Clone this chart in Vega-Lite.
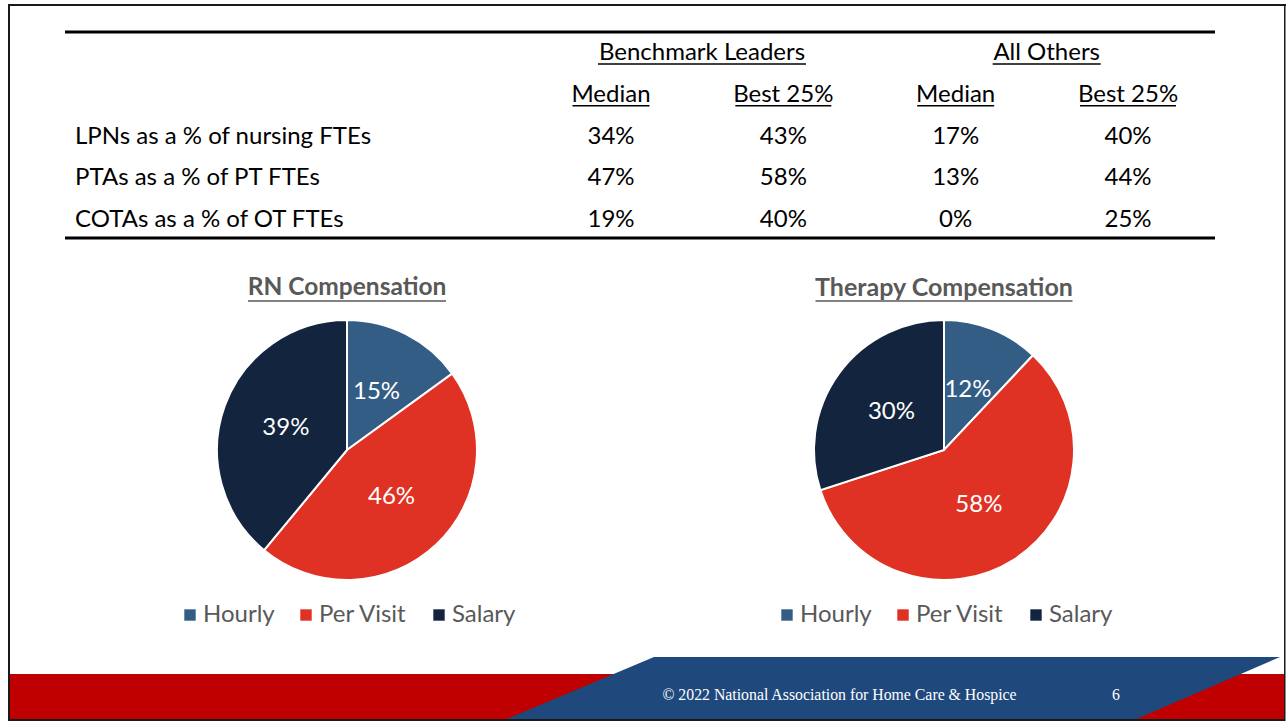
{
  "$schema": "https://vega.github.io/schema/vega-lite/v6.json",
  "padding": 0,
  "background": "white",
  "spacing": 0,
  "config": {
    "view": {"stroke": null},
    "font": "Lato",
    "axis": {"grid": false}
  },
  "datasets": {
    "cells": [
      {"metric": "LPNs as a % of nursing FTEs", "col": "Leaders Median", "share": 0.34},
      {"metric": "LPNs as a % of nursing FTEs", "col": "Leaders Best 25%", "share": 0.43},
      {"metric": "LPNs as a % of nursing FTEs", "col": "Others Median", "share": 0.17},
      {"metric": "LPNs as a % of nursing FTEs", "col": "Others Best 25%", "share": 0.40},
      {"metric": "PTAs as a % of PT FTEs", "col": "Leaders Median", "share": 0.47},
      {"metric": "PTAs as a % of PT FTEs", "col": "Leaders Best 25%", "share": 0.58},
      {"metric": "PTAs as a % of PT FTEs", "col": "Others Median", "share": 0.13},
      {"metric": "PTAs as a % of PT FTEs", "col": "Others Best 25%", "share": 0.44},
      {"metric": "COTAs as a % of OT FTEs", "col": "Leaders Median", "share": 0.19},
      {"metric": "COTAs as a % of OT FTEs", "col": "Leaders Best 25%", "share": 0.40},
      {"metric": "COTAs as a % of OT FTEs", "col": "Others Median", "share": 0.00},
      {"metric": "COTAs as a % of OT FTEs", "col": "Others Best 25%", "share": 0.25}
    ],
    "subheads": [
      {"metric": "Statistic", "col": "Leaders Median", "label": "Median"},
      {"metric": "Statistic", "col": "Leaders Best 25%", "label": "Best 25%"},
      {"metric": "Statistic", "col": "Others Median", "label": "Median"},
      {"metric": "Statistic", "col": "Others Best 25%", "label": "Best 25%"}
    ],
    "groups": [
      {"metric": "Group", "col": "Leaders Median", "label": "Benchmark Leaders"},
      {"metric": "Group", "col": "Others Median", "label": "All Others"}
    ],
    "rn": [
      {"type": "Hourly", "share": 0.15},
      {"type": "Per Visit", "share": 0.46},
      {"type": "Salary", "share": 0.39}
    ],
    "therapy": [
      {"type": "Hourly", "share": 0.12},
      {"type": "Per Visit", "share": 0.58},
      {"type": "Salary", "share": 0.30}
    ]
  },
  "vconcat": [
    {
      "width": 1286,
      "height": 243,
      "layer": [
        {
          "data": {"values": [{"piece": "slide frame"}]},
          "mark": {"type": "point", "shape": "M -635 -117.5 L 643 -117.5 L 643 -115.5 L -635 -115.5 Z M -635 -115.5 L -633 -115.5 L -633 121.5 L -635 121.5 Z M 641 -115.5 L 642.5 -115.5 L 642.5 121.5 L 641 121.5 Z", "size": 4, "filled": true, "fill": "#1a1a1a", "strokeWidth": 0, "opacity": 1},
          "encoding": {}
        },
        {
          "data": {"values": [{"edge": "top"}]},
          "mark": {"type": "rule", "stroke": "black", "strokeWidth": 3, "xOffset": -546, "x2Offset": 87, "yOffset": -21},
          "encoding": {
            "x": {"datum": "Leaders Median", "type": "nominal", "scale": {"type": "point", "domain": ["Leaders Median", "Leaders Best 25%", "Others Median", "Others Best 25%"], "range": [611, 1128], "padding": 0}, "axis": null},
            "x2": {"datum": "Others Best 25%"},
            "y": {"datum": "Group", "type": "nominal", "scale": {"type": "point", "domain": ["Group", "Statistic", "LPNs as a % of nursing FTEs", "PTAs as a % of PT FTEs", "COTAs as a % of OT FTEs"], "range": [53, 220], "padding": 0}, "axis": null}
          }
        },
        {
          "data": {"values": [{"edge": "bottom"}]},
          "mark": {"type": "rule", "stroke": "black", "strokeWidth": 3, "xOffset": -546, "x2Offset": 87, "yOffset": 18},
          "encoding": {
            "x": {"datum": "Leaders Median", "type": "nominal", "axis": null},
            "x2": {"datum": "Others Best 25%"},
            "y": {"datum": "COTAs as a % of OT FTEs", "type": "nominal", "axis": null}
          }
        },
        {
          "data": {"name": "cells"},
          "transform": [{"filter": "datum.col == 'Leaders Median'"}],
          "mark": {"type": "text", "fontSize": 24, "font": "Lato", "fill": "black", "baseline": "middle", "align": "left", "xOffset": -536},
          "encoding": {
            "x": {"field": "col", "type": "nominal", "axis": null},
            "y": {"field": "metric", "type": "nominal", "axis": null},
            "text": {"field": "metric"}
          }
        },
        {
          "data": {"name": "cells"},
          "mark": {"type": "text", "fontSize": 24, "font": "Lato", "fill": "black", "baseline": "middle", "align": "center"},
          "encoding": {
            "x": {"field": "col", "type": "nominal", "axis": null},
            "y": {"field": "metric", "type": "nominal", "axis": null},
            "text": {"field": "share", "type": "quantitative", "format": ".0%"}
          }
        },
        {
          "data": {"name": "subheads"},
          "mark": {"type": "text", "fontSize": 24, "font": "Lato", "fill": "black", "baseline": "middle", "align": "center"},
          "encoding": {
            "x": {"field": "col", "type": "nominal", "axis": null},
            "y": {"field": "metric", "type": "nominal", "axis": null},
            "text": {"field": "label"}
          }
        },
        {
          "data": {"name": "subheads"},
          "transform": [{"filter": "datum.label == 'Median'"}],
          "mark": {"type": "rule", "stroke": "black", "strokeWidth": 1.6, "xOffset": -38.5, "x2Offset": 38.5, "yOffset": 11},
          "encoding": {
            "x": {"field": "col", "type": "nominal", "axis": null},
            "x2": {"field": "col"},
            "y": {"field": "metric", "type": "nominal", "axis": null}
          }
        },
        {
          "data": {"name": "subheads"},
          "transform": [{"filter": "datum.label == 'Best 25%'"}],
          "mark": {"type": "rule", "stroke": "black", "strokeWidth": 1.6, "xOffset": -48, "x2Offset": 48, "yOffset": 11},
          "encoding": {
            "x": {"field": "col", "type": "nominal", "axis": null},
            "x2": {"field": "col"},
            "y": {"field": "metric", "type": "nominal", "axis": null}
          }
        },
        {
          "data": {"name": "groups"},
          "mark": {"type": "text", "fontSize": 24, "font": "Lato", "fill": "black", "baseline": "middle", "align": "center", "xOffset": 91},
          "encoding": {
            "x": {"field": "col", "type": "nominal", "axis": null},
            "y": {"field": "metric", "type": "nominal", "axis": null},
            "text": {"field": "label"}
          }
        },
        {
          "data": {"name": "groups"},
          "transform": [{"filter": "datum.label == 'Benchmark Leaders'"}],
          "mark": {"type": "rule", "stroke": "black", "strokeWidth": 1.6, "xOffset": -13, "x2Offset": 195, "yOffset": 11},
          "encoding": {
            "x": {"field": "col", "type": "nominal", "axis": null},
            "x2": {"field": "col"},
            "y": {"field": "metric", "type": "nominal", "axis": null}
          }
        },
        {
          "data": {"name": "groups"},
          "transform": [{"filter": "datum.label == 'All Others'"}],
          "mark": {"type": "rule", "stroke": "black", "strokeWidth": 1.6, "xOffset": 37, "x2Offset": 145, "yOffset": 11},
          "encoding": {
            "x": {"field": "col", "type": "nominal", "axis": null},
            "x2": {"field": "col"},
            "y": {"field": "metric", "type": "nominal", "axis": null}
          }
        }
      ]
    },
    {
      "hconcat": [
        {
          "width": 694,
          "height": 414,
          "layer": [
            {
              "data": {"values": [{"piece": "slide frame"}]},
              "mark": {"type": "point", "shape": "M -339 -207 L -337 -207 L -337 207 L -339 207 Z", "size": 4, "filled": true, "fill": "#1a1a1a", "strokeWidth": 0, "opacity": 1},
              "encoding": {}
            },
            {
              "data": {"name": "rn"},
              "mark": {"type": "arc", "outerRadius": 130, "stroke": "white", "strokeWidth": 2},
              "encoding": {
                "theta": {"field": "share", "type": "quantitative", "stack": true},
                "order": {"field": "type", "type": "ordinal"},
                "color": {"field": "type", "type": "nominal",
                          "scale": {"domain": ["Hourly", "Per Visit", "Salary"], "range": ["#335d84", "#df3224", "#13243f"]},
                          "legend": {"orient": "none", "legendX": 178, "legendY": 360, "direction": "horizontal", "title": null, "symbolType": "square", "symbolSize": 130, "symbolStrokeWidth": 0, "labelFontSize": 24, "labelFont": "Lato", "labelColor": "#595959", "columnPadding": 19, "labelOffset": 1, "padding": 0}}
              }
            },
            {
              "data": {"name": "rn"},
              "mark": {"type": "text", "radius": 65, "fontSize": 24, "font": "Lato", "fill": "white", "align": "center", "baseline": "middle"},
              "encoding": {
                "theta": {"field": "share", "type": "quantitative", "stack": true},
                "order": {"field": "type", "type": "ordinal"},
                "text": {"field": "share", "type": "quantitative", "format": ".0%"}
              }
            },
            {
              "data": {"values": [{"title": "RN Compensation"}]},
              "mark": {"type": "text", "fontSize": 24.5, "font": "Lato", "fontWeight": "bold", "fill": "#595959", "align": "center", "baseline": "middle"},
              "encoding": {
                "y": {"field": "title", "type": "nominal", "scale": {"type": "point", "range": [45, 45]}, "axis": null},
                "text": {"field": "title"}
              }
            },
            {
              "data": {"values": [{"title": "RN Compensation"}]},
              "mark": {"type": "rule", "stroke": "#595959", "strokeWidth": 1.6, "xOffset": -99, "x2Offset": 99, "yOffset": 13},
              "encoding": {
                "x": {"field": "title", "type": "nominal", "axis": null},
                "x2": {"field": "title"},
                "y": {"field": "title", "type": "nominal", "scale": {"type": "point", "range": [45, 45]}, "axis": null}
              }
            }
          ]
        },
        {
          "width": 500,
          "height": 414,
          "layer": [
            {
              "data": {"values": [{"piece": "slide frame"}]},
              "mark": {"type": "point", "shape": "M 340 -207 L 341.5 -207 L 341.5 207 L 340 207 Z", "size": 4, "filled": true, "fill": "#1a1a1a", "strokeWidth": 0, "opacity": 1},
              "encoding": {}
            },
            {
              "data": {"name": "therapy"},
              "mark": {"type": "arc", "outerRadius": 130, "stroke": "white", "strokeWidth": 2},
              "encoding": {
                "theta": {"field": "share", "type": "quantitative", "stack": true},
                "order": {"field": "type", "type": "ordinal"},
                "color": {"field": "type", "type": "nominal",
                          "scale": {"domain": ["Hourly", "Per Visit", "Salary"], "range": ["#335d84", "#df3224", "#13243f"]},
                          "legend": {"orient": "none", "legendX": 81, "legendY": 360, "direction": "horizontal", "title": null, "symbolType": "square", "symbolSize": 130, "symbolStrokeWidth": 0, "labelFontSize": 24, "labelFont": "Lato", "labelColor": "#595959", "columnPadding": 19, "labelOffset": 1, "padding": 0}}
              }
            },
            {
              "data": {"name": "therapy"},
              "mark": {"type": "text", "radius": 65, "fontSize": 24, "font": "Lato", "fill": "white", "align": "center", "baseline": "middle"},
              "encoding": {
                "theta": {"field": "share", "type": "quantitative", "stack": true},
                "order": {"field": "type", "type": "ordinal"},
                "text": {"field": "share", "type": "quantitative", "format": ".0%"}
              }
            },
            {
              "data": {"values": [{"title": "Therapy Compensation"}]},
              "mark": {"type": "text", "fontSize": 25, "font": "Lato", "fontWeight": "bold", "fill": "#595959", "align": "center", "baseline": "middle"},
              "encoding": {
                "y": {"field": "title", "type": "nominal", "scale": {"type": "point", "range": [45, 45]}, "axis": null},
                "text": {"field": "title"}
              }
            },
            {
              "data": {"values": [{"title": "Therapy Compensation"}]},
              "mark": {"type": "rule", "stroke": "#595959", "strokeWidth": 1.6, "xOffset": -128.5, "x2Offset": 128.5, "yOffset": 13},
              "encoding": {
                "x": {"field": "title", "type": "nominal", "axis": null},
                "x2": {"field": "title"},
                "y": {"field": "title", "type": "nominal", "scale": {"type": "point", "range": [45, 45]}, "axis": null}
              }
            }
          ]
        }
      ],
      "spacing": 0,
      "resolve": {"scale": {"color": "independent", "x": "independent", "y": "independent", "theta": "independent"}, "legend": {"color": "independent"}}
    },
    {
      "width": 1286,
      "height": 64,
      "data": {"values": [{"note": "© 2022 National Association for Home Care & Hospice", "page": "6"}]},
      "layer": [
        {
          "mark": {"type": "point", "shape": "M -633 -15 L 641 -15 L 641 32 L -633 32 Z", "size": 4, "filled": true, "fill": "#c00000", "opacity": 1, "strokeWidth": 0},
          "encoding": {}
        },
        {
          "mark": {"type": "point", "shape": "M 11 -32 L 637 -32 L 489 32 L -141 32 Z", "size": 4, "filled": true, "fill": "#1f497d", "opacity": 1, "strokeWidth": 0},
          "encoding": {}
        },
        {
          "mark": {"type": "point", "shape": "M -635 -32 L -633 -32 L -633 30 L 641 30 L 641 -32 L 642.5 -32 L 642.5 32 L -635 32 Z", "size": 4, "filled": true, "fill": "#1a1a1a", "opacity": 1, "strokeWidth": 0},
          "encoding": {}
        },
        {
          "mark": {"type": "text", "font": "Liberation Serif", "fontSize": 15.8, "fill": "white", "align": "center", "baseline": "middle", "dx": 196.5, "dy": 6},
          "encoding": {"text": {"field": "note"}}
        },
        {
          "mark": {"type": "text", "font": "Liberation Serif", "fontSize": 15.8, "fill": "white", "align": "center", "baseline": "middle", "dx": 473, "dy": 6},
          "encoding": {"text": {"field": "page"}}
        }
      ]
    }
  ]
}
